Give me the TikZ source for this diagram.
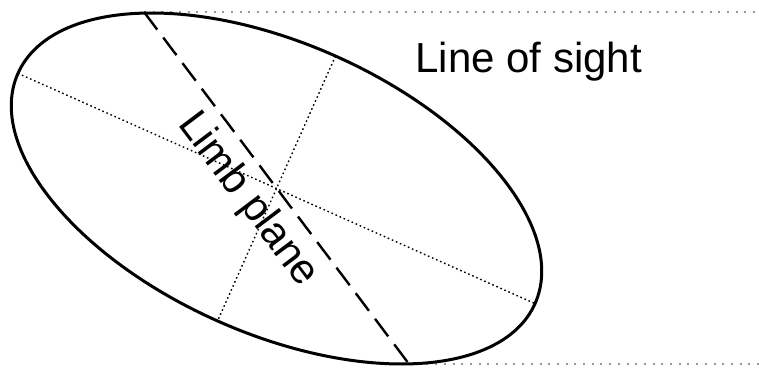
\documentclass[tikz,border=0pt]{standalone}
\usepackage{fontspec}
\setmainfont{Liberation Sans}
\usetikzlibrary{calc}

\begin{document}
\begin{tikzpicture}[x=0.5pt, y=0.5pt,
					body/.style={draw, line width=1.5pt},
					axis/.style={draw, line width=0.7pt, dash pattern=on 0.8pt off 1.4pt},
					limb/.style={draw, line width=1.2pt, dash pattern=on 11pt off 5pt},
					sight/.style={draw, black!40, line width=1pt, dash pattern=on 1pt off 3.35pt},
					label/.style={inner sep=0pt, font=\fontsize{21}{25}\selectfont}
				]
					\useasboundingbox (0,0) rectangle (759,374);
					
					% Points
					\coordinate (c) at (276.5,185.5);
					\coordinate (majl) at ($(c)+(156:283)$);
					\coordinate (majr) at ($(c)+(-24:283)$);
					\coordinate (mint) at ($(c)+(66:145)$);
					\coordinate (minb) at ($(c)+(246:145)$);
					\coordinate (limbt) at (144,362);
					\coordinate (limbb) at (409,10);
					\coordinate (sightt) at (759,362);
					\coordinate (sightb) at (759,10);
					
					% Nodes
					\node[label, anchor=base west] (los) at (415,301) {Line of sight};
					\node[label, anchor=base west, rotate=-53] (lp) at (177,250) {Limb plane};
					
					% Lines
					\draw[sight] (limbt) -- (sightt);
					\draw[sight] (limbb) -- (sightb);
					\draw[axis] (majl) -- (majr);
					\draw[axis] (mint) -- (minb);
					\draw[limb] (limbt) -- (limbb);
					\draw[body, rotate around={-24:(c)}] (c) ellipse [x radius=141.5pt, y radius=72.5pt];
				\end{tikzpicture}
\end{document}
